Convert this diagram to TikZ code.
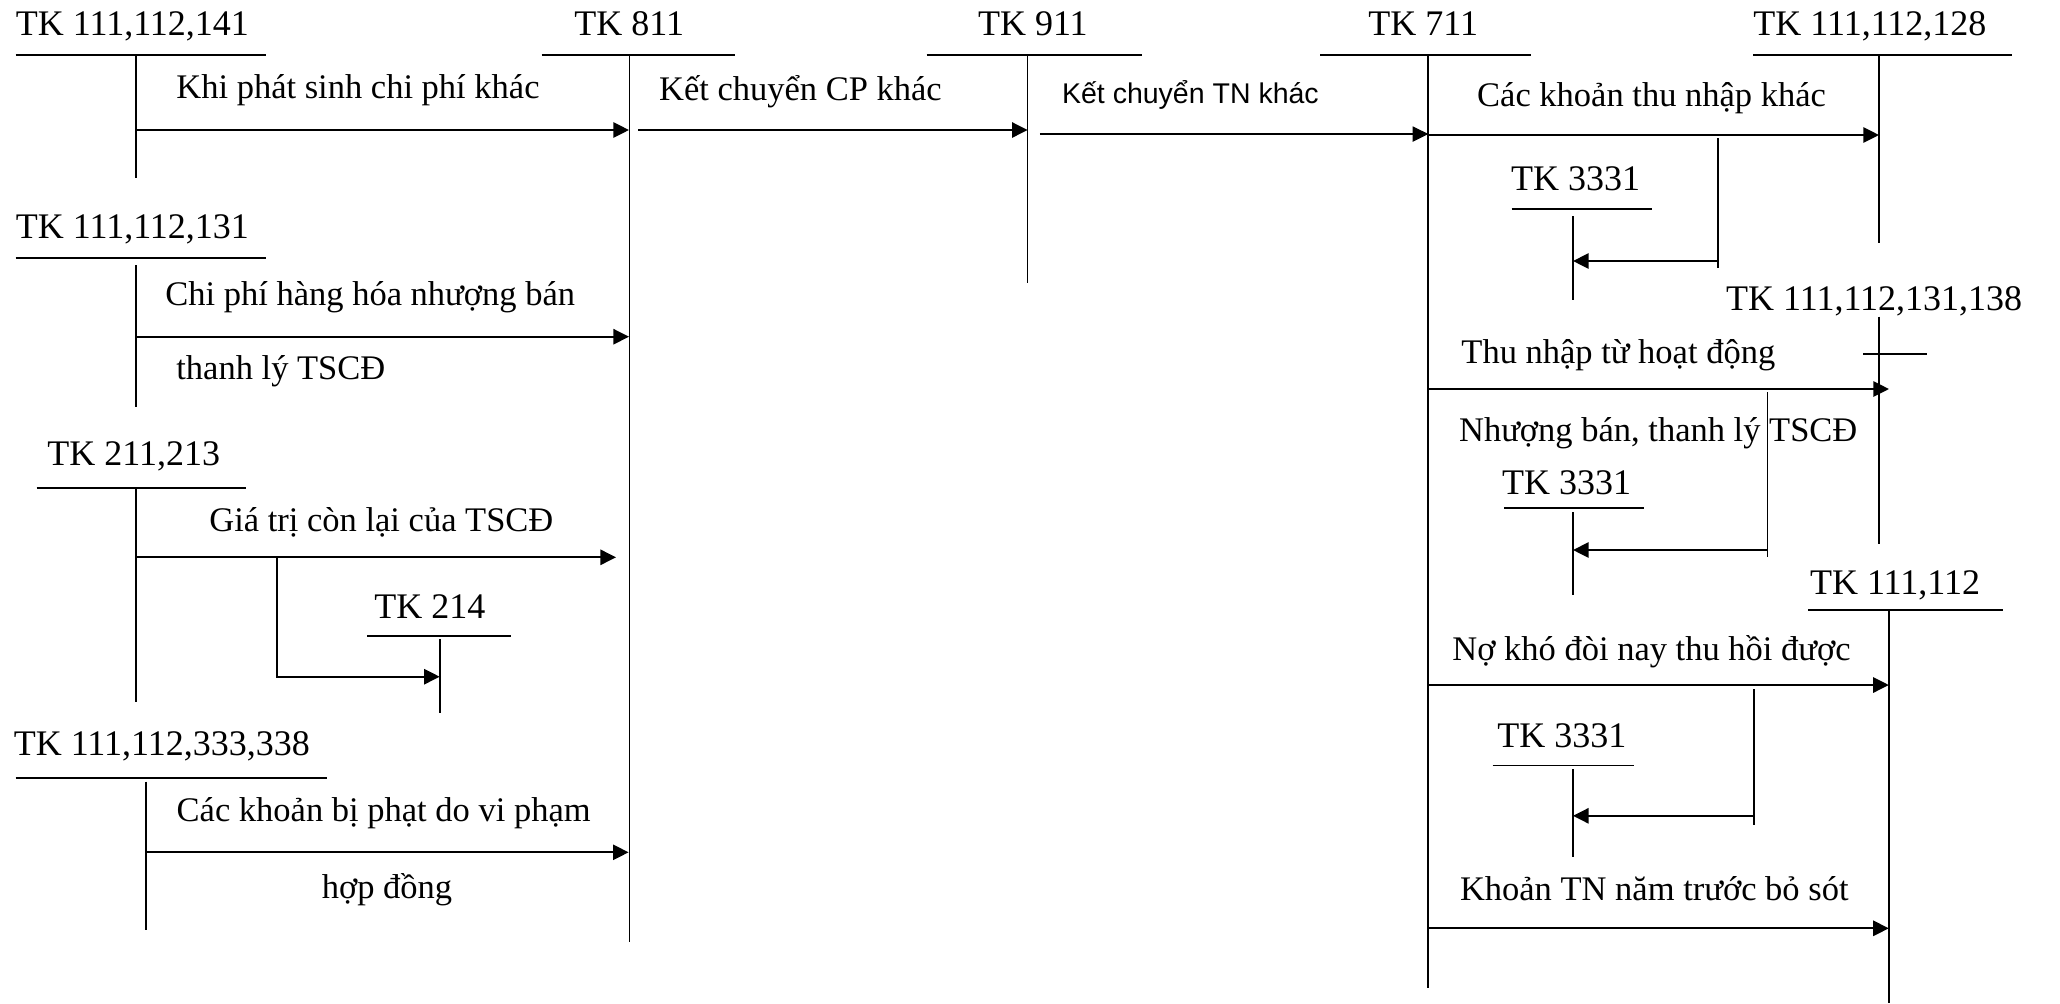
\documentclass[tikz,border=0pt]{standalone}
\usepackage{fontspec}
\setmainfont{Liberation Serif}
\newfontfamily\labelsans{Liberation Sans}
\usetikzlibrary{arrows.meta}
\begin{document}
\begin{tikzpicture}[x=0.5pt,y=-0.5pt,
  acct/.style={anchor=base west,inner sep=0pt,font=\fontsize{18pt}{20pt}\selectfont},
  note/.style={anchor=base west,inner sep=0pt,font=\fontsize{17.25pt}{20pt}\selectfont},
  notesans/.style={anchor=base west,inner sep=0pt,font=\labelsans\fontsize{14.25pt}{16pt}\selectfont},
  rule/.style={line width=0.85pt},
  flow/.style={line width=1.1pt,-{Triangle[length=7.8pt,width=7.6pt]}},
  thinflow/.style={line width=0.6pt,-{Triangle[length=7.8pt,width=7.6pt]}},
]
\fill[white] (0,0) rectangle (2060,1003);
\useasboundingbox (0,0) rectangle (2060,1003);

% ---------- account titles ----------
\node[acct] (k141)  at (15.6,35)   {TK 111,112,141};
\node[acct] (k811)  at (574,35)    {TK 811};
\node[acct] (k911)  at (977.6,35)  {TK 911};
\node[acct] (k711)  at (1368,35)   {TK 711};
\node[acct] (k128)  at (1753,35)   {TK 111,112,128};
\node[acct] (k131)  at (15.6,238)  {TK 111,112,131};
\node[acct] (k211)  at (47,465)    {TK 211,213};
\node[acct] (k214)  at (374,618.3) {TK 214};
\node[acct] (k338)  at (13.4,755)  {TK 111,112,333,338};
\node[acct] (vatA)  at (1510.7,190.7) {TK 3331};
\node[acct] (k138)  at (1725.8,310) {TK 111,112,131,138};
\node[acct] (vatB)  at (1501.7,494) {TK 3331};
\node[acct] (k112)  at (1809.6,594.5) {TK 111,112};
\node[acct] (vatC)  at (1497,747.5) {TK 3331};

% ---------- T-account rules ----------
\draw[rule] (15.6,55) -- (265.6,55);
\draw[rule] (541.5,55) -- (735,55);
\draw[rule] (926.5,55) -- (1141.8,55);
\draw[rule] (1320,55) -- (1531,55);
\draw[rule] (1753,55) -- (2012,55);
\draw[rule] (15.6,258) -- (265.6,258);
\draw[rule] (36.6,488.3) -- (245.5,488.3);
\draw[rule] (367,635.7) -- (511,635.7);
\draw[rule] (15.6,777.7) -- (326.8,777.7);
\draw[rule] (1511.6,209) -- (1652,209);
\draw[rule] (1863,354.3) -- (1927,354.3);
\draw[rule] (1504,508.3) -- (1644,508.3);
\draw[rule] (1808,610) -- (2003.4,610);
\draw[rule] (1492.6,765.4) -- (1634,765.4);

% ---------- account columns ----------
\coordinate (c141t) at (136,55);     \coordinate (c141b) at (136,178);
\coordinate (c811t) at (629.5,55);   \coordinate (c811b) at (629.5,942);
\coordinate (c911t) at (1027.6,55);  \coordinate (c911b) at (1027.6,283);
\coordinate (c711t) at (1428.3,55);  \coordinate (c711b) at (1428.3,988);
\coordinate (c128t) at (1879,55);    \coordinate (c128b) at (1879,243);
\coordinate (c131t) at (136,265);    \coordinate (c131b) at (136,406.7);
\coordinate (c211t) at (136,488.3);  \coordinate (c211b) at (136,701.7);
\coordinate (c214t) at (439.7,639.3);\coordinate (c214b) at (439.7,713.3);
\coordinate (c338t) at (146,781.7);  \coordinate (c338b) at (146,930);
\coordinate (cvAt) at (1573,216);    \coordinate (cvAb) at (1573,300);
\coordinate (c138t) at (1879,316.7); \coordinate (c138b) at (1879,543.7);
\coordinate (cvBt) at (1573,512);    \coordinate (cvBb) at (1573,594.5);
\coordinate (c112t) at (1888.8,610); \coordinate (c112b) at (1888.8,1003);
\coordinate (cvCt) at (1573,769);    \coordinate (cvCb) at (1573,857);
\foreach \c in {141,811,911,711,128,131,211,214,338,vA,138,vB,112,vC}
  \draw[rule] (c\c t) -- (c\c b);

% ---------- flows, left part ----------
\coordinate (f1s) at (136,130);   \coordinate (f1e) at (629,130);
\draw[flow] (f1s) -- (f1e);
\node[note] (n1) at (176,98) {Khi phát sinh chi phí khác};

\coordinate (f2s) at (638,130);   \coordinate (f2e) at (1027.6,130);
\draw[flow] (f2s) -- (f2e);
\node[note] (n2) at (658.7,100) {Kết chuyển CP khác};

\coordinate (f3s) at (1039.8,134); \coordinate (f3e) at (1428.3,134);
\draw[thinflow] (f3s) -- (f3e);
\node[notesans] (n3) at (1061.7,103) {Kết chuyển TN khác};

\coordinate (f4s) at (136,336.7); \coordinate (f4e) at (629,336.7);
\draw[flow] (f4s) -- (f4e);
\node[note] (n4a) at (165,305) {Chi phí hàng hóa nhượng bán};
\node[note] (n4b) at (176,379) {thanh lý TSCĐ};

\coordinate (f5s) at (136,557.3); \coordinate (f5e) at (616,557.3);
\draw[flow] (f5s) -- (f5e);
\node[note] (n5) at (209,531.7) {Giá trị còn lại của TSCĐ};
\coordinate (f5b) at (276.8,557.3); \coordinate (f5t) at (439.7,676.7);
\draw[flow] (f5b) |- (f5t);

\coordinate (f6s) at (146,852.3); \coordinate (f6e) at (628.6,852.3);
\draw[flow] (f6s) -- (f6e);
\node[note] (n6a) at (176.3,821.7) {Các khoản bị phạt do vi phạm};
\node[note] (n6b) at (321.4,898.3) {hợp đồng};

% ---------- flows, right part ----------
\coordinate (g1s) at (1428.3,135); \coordinate (g1e) at (1879,135);
\draw[flow] (g1s) -- (g1e);
\node[note] (m1) at (1476.8,106.7) {Các khoản thu nhập khác};
\coordinate (g1bt) at (1718,138); \coordinate (g1bb) at (1718,268);
\draw[rule] (g1bt) -- (g1bb);
\coordinate (g1ts) at (1718,261); \coordinate (g1te) at (1573,261);
\draw[flow] (g1ts) -- (g1te);

\coordinate (g2s) at (1428.3,389); \coordinate (g2e) at (1889,389);
\draw[flow] (g2s) -- (g2e);
\node[note] (m2a) at (1461,363) {Thu nhập từ hoạt động};
\node[note] (m2b) at (1458.7,441.6) {Nhượng bán, thanh lý TSCĐ};
\coordinate (g2bt) at (1767.5,392); \coordinate (g2bb) at (1767.5,557);
\draw[rule] (g2bt) -- (g2bb);
\coordinate (g2ts) at (1767.5,550); \coordinate (g2te) at (1573,550);
\draw[flow] (g2ts) -- (g2te);

\coordinate (g3s) at (1428.3,685); \coordinate (g3e) at (1888.8,685);
\draw[flow] (g3s) -- (g3e);
\node[note] (m3) at (1452,660) {Nợ khó đòi nay thu hồi được};
\coordinate (g3bt) at (1754.3,689); \coordinate (g3bb) at (1754.3,825);
\draw[rule] (g3bt) -- (g3bb);
\coordinate (g3ts) at (1754.3,815.8); \coordinate (g3te) at (1573,815.8);
\draw[flow] (g3ts) -- (g3te);

\coordinate (g4s) at (1428.3,928.3); \coordinate (g4e) at (1888.8,928.3);
\draw[flow] (g4s) -- (g4e);
\node[note] (m4) at (1459.6,900.5) {Khoản TN năm trước bỏ sót};
\end{tikzpicture}
\end{document}
